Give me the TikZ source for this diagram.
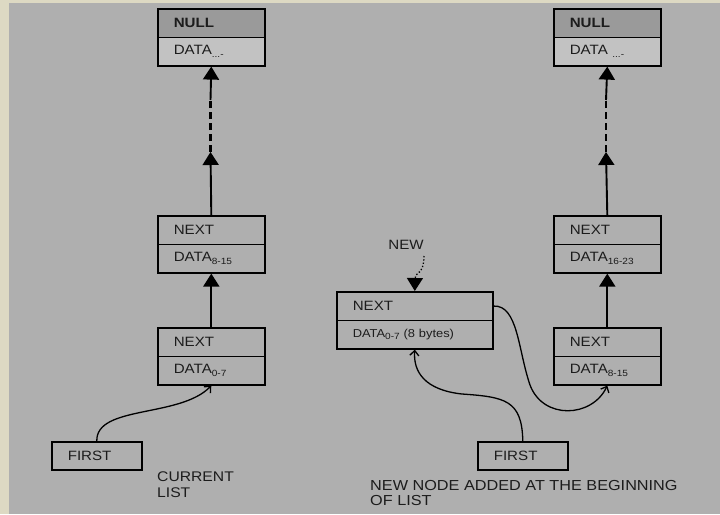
\documentclass[tikz,border=0pt]{standalone}
\usepackage{fontspec}
\setmainfont{Liberation Sans}[FakeStretch=1.12]
\usetikzlibrary{arrows.meta}
\definecolor{bgc}{HTML}{AFAFAF}
\definecolor{framec}{HTML}{DDD9C3}
\definecolor{nullc}{HTML}{9A9A9A}
\definecolor{datac}{HTML}{C2C2C2}
\definecolor{txt}{HTML}{1C1C1C}
\newcommand{\mysub}[1]{\raisebox{-2.5pt}{\fontsize{9}{9}\selectfont #1}}
\begin{document}
\begin{tikzpicture}[x=1pt,y=-1pt,
  cell/.style={draw=black, line width=1.6pt, minimum height=28.5pt, inner xsep=16pt, inner ysep=0pt,
    text width=75pt, align=left, anchor=north west, font=\fontsize{13.5}{15}\selectfont, text=txt},
  firstbox/.style={draw=black, line width=1.6pt, minimum height=28pt, inner xsep=16pt, inner ysep=0pt,
    text width=58pt, align=left, anchor=north west, font=\fontsize{13.5}{15}\selectfont, text=txt},
  lbl/.style={font=\fontsize{13.5}{16}\selectfont, text=txt, align=left, inner sep=0pt},
  arr/.style={line width=1.9pt, -{Triangle[width=16pt,length=13pt]}},
  dashline/.style={line width=2.3pt, dash pattern=on 7pt off 4pt},
  curve/.style={line width=1.3pt, -{Straight Barb[length=5pt,width=9pt]}}
]
\useasboundingbox (0,0) rectangle (720,514);
\fill[framec] (0,0) rectangle (720,514);
\fill[bgc] (9,3) rectangle (720,514);

% left column
\node[cell, fill=nullc, font=\bfseries\fontsize{13.5}{15}\selectfont] (l0a) at (157,8) {NULL};
\node[cell, fill=datac] (l0b) at (157,36.5) {DATA\mysub{...-}};
\node[cell] (l1a) at (157,215) {NEXT};
\node[cell] (l1b) at (157,243.5) {DATA\mysub{8-15}};
\node[cell] (l2a) at (157,327) {NEXT};
\node[cell] (l2b) at (157,355.5) {DATA\mysub{0-7}};
\node[firstbox] (lf) at (51,441) {FIRST};
\node[lbl, anchor=north west, font=\fontsize{14}{16}\selectfont] (cur) at (157,472) {CURRENT\\LIST};

\coordinate (lmid) at (210.5,152);
\coordinate (ldash) at (210.5,100);
\draw[arr] (l2a.north) -- (l1b.south);
\draw[arr] (l1a.north) -- (lmid);
\draw[dashline] (lmid) -- (ldash);
\draw[arr] (ldash) -- (l0b.south);
\draw[curve] (lf.north) .. controls (96,405) and (180,418) .. (l2b.south);

% right column
\node[cell, fill=nullc, font=\bfseries\fontsize{13.5}{15}\selectfont] (r0a) at (553,8) {NULL};
\node[cell, fill=datac] (r0b) at (553,36.5) {DATA \mysub{...-}};
\node[cell] (r1a) at (553,215) {NEXT};
\node[cell] (r1b) at (553,243.5) {DATA\mysub{16-23}};
\node[cell] (r2a) at (553,327) {NEXT};
\node[cell] (r2b) at (553,355.5) {DATA\mysub{8-15}};

\coordinate (rmid) at (606,152);
\coordinate (rdash) at (606,100);
\draw[arr] (r2a.north) -- (r1b.south);
\draw[arr] (r1a.north) -- (rmid);
\draw[dashline] (rmid) -- (rdash);
\draw[arr] (rdash) -- (r0b.south);

% new node
\node[cell, text width=124pt] (na) at (336,291) {NEXT};
\node[cell, text width=124pt, font=\fontsize{11.5}{13}\selectfont] (nb) at (336,319.5) {DATA\mysub{0-7} (8 bytes)};
\node[lbl] (newl) at (406,245) {NEW};
\node[firstbox] (rf) at (477,441) {FIRST};
\node[lbl, anchor=north west, font=\fontsize{14.5}{15.5}\selectfont] (cap) at (370,480) {NEW NODE ADDED AT THE BEGINNING\\OF LIST};

\coordinate (dotstart) at (424,256);
\draw[line width=1.3pt, dotted, -{Triangle[width=16pt,length=13pt]}] (dotstart) .. controls (424,275) and (415,272) .. (na.north);
\draw[curve] (rf.north) .. controls (522,400) and (505,397) .. (462,394) .. controls (425,390) and (413,372) .. (nb.south);
\draw[curve] (na.east) .. controls (518,305) and (518,350) .. (530,385) .. controls (543,420) and (592,418) .. (r2b.south);
\end{tikzpicture}
\end{document}
